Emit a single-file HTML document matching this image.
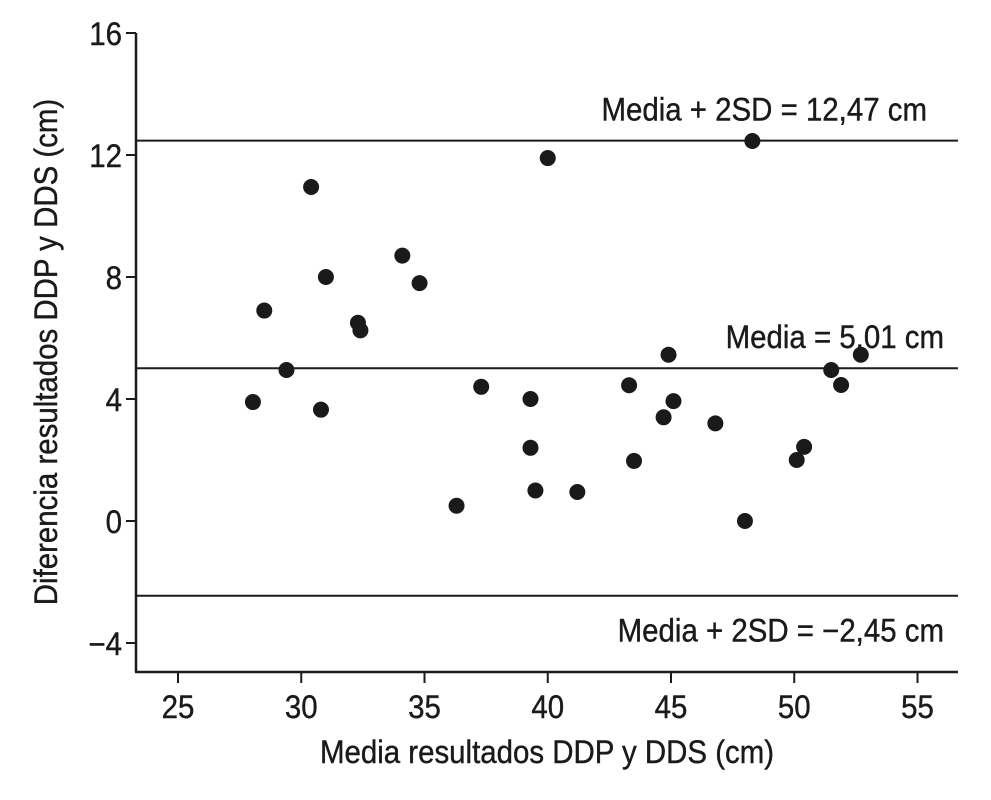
<!DOCTYPE html>
<html><head><meta charset="utf-8"><style>
body{margin:0;background:#fff}
svg text{font-family:"Liberation Sans Narrow","Liberation Sans",sans-serif;fill:#1a1a1a}
</style></head><body>
<svg width="991" height="795" viewBox="0 0 991 795">
<g id="chart"></g>
</svg>
<script>
const xVals=[28.04,28.5,29.4,30.4,30.8,31.0,32.3,32.4,34.1,34.8,36.3,37.3,39.3,39.3,39.5,40.0,41.2,43.3,43.5,44.7,44.9,45.1,46.8,48.0,48.3,50.1,50.4,51.5,51.9,52.7];
const yVals=[3.9,6.9,4.95,10.95,3.65,8.0,6.5,6.25,8.7,7.8,0.5,4.4,4.0,2.4,1.0,11.9,0.95,4.45,1.97,3.4,5.45,3.93,3.2,0,12.46,2.0,2.43,4.95,4.46,5.45];
const xTicks=[25,30,35,40,45,50,55];
const yTicks=[16,12,8,4,0,-4];
const refValues=[12.47,5.01,-2.45];
const refLabels=["Media + 2SD = 12,47 cm","Media = 5,01 cm","Media + 2SD = \u22122,45 cm"];
const NS="http://www.w3.org/2000/svg";
const g=document.getElementById('chart');
const X=v=>178+(v-25)*24.65;
const Y=v=>521-v*30.5;
const L=136,R=958,T=33,B=672;
const SX=0.92,FS=32;
function el(t,a,txt,parent){const e=document.createElementNS(NS,t);for(const k in a)e.setAttribute(k,a[k]);if(txt!==undefined)e.textContent=txt;(parent||g).appendChild(e);return e;}
function txt(x,y,s,anchor,rot){
 const w=el('g',{transform:'translate('+x+','+y+')'+(rot?' rotate('+rot+')':'')+' scale('+SX+',1)'});
 return el('text',{x:0,y:0,'font-size':FS,'text-anchor':anchor,stroke:'#1a1a1a','stroke-width':0.4},s,w);
}
let e;
e=el('line',{x1:L,y1:T,x2:L,y2:B,stroke:'#1a1a1a','stroke-width':2.5});


e=el('line',{x1:L-1,y1:B,x2:R,y2:B,stroke:'#1a1a1a','stroke-width':2.5});


xTicks.forEach(t=>{
 e=el('line',{x1:X(t),y1:B,x2:X(t),y2:B+11,stroke:'#1a1a1a','stroke-width':2});
 
 
 e=txt(X(t),718,String(t),'middle');
 
 
});
yTicks.forEach(t=>{
 e=el('line',{x1:L-10,y1:Y(t),x2:L,y2:Y(t),stroke:'#1a1a1a','stroke-width':2});
 
 
 e=txt(L-14,Y(t)+12,t<0?'\u2212'+Math.abs(t):String(t),'end');
 
 
});
refValues.forEach((v,i)=>{
 e=el('line',{x1:L,y1:Y(v),x2:R,y2:Y(v),stroke:'#1a1a1a','stroke-width':2});
 
 
 const ty=i===2?Y(v)+46:Y(v)-20;
 e=txt(i===0?927:944,ty,refLabels[i],'end');
 
 
});
xVals.forEach((x,i)=>{
 e=el('circle',{cx:X(x),cy:Y(yVals[i]),r:8,fill:'#1a1a1a'});
 
 
});
e=txt(547,763,'Media resultados DDP y DDS (cm)','middle');


e=txt(57,352,'Diferencia resultados DDP y DDS (cm)','middle',-90);


</script>
</body></html>
